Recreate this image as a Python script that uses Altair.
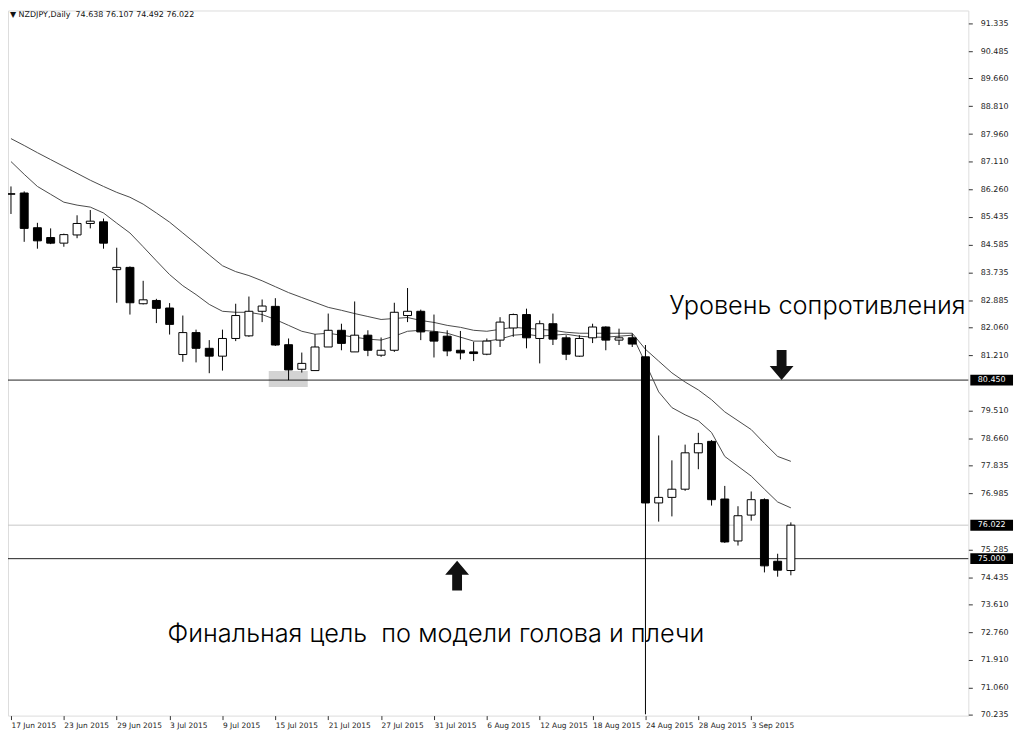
import altair as alt
import pandas as pd

# NZDJPY daily candles, 17 Jun 2015 - 8 Sep 2015
opens = [86.12, 86.16, 85.10, 84.80, 84.63, 84.88, 85.23, 85.28, 83.82, 83.89,
         82.78, 82.88, 82.65, 81.23, 81.90, 81.42, 81.18, 81.72, 81.80, 82.55,
         82.70, 81.53, 80.78, 80.74, 81.46, 81.97, 81.31, 81.82, 81.21, 81.36,
         82.42, 82.55, 81.92, 81.79, 81.36, 81.31, 81.24, 81.67, 82.04, 82.45,
         81.72, 82.17, 81.74, 81.18, 81.74, 82.07, 81.67, 81.74, 81.16, 76.70,
         76.87, 77.12, 78.23, 78.58, 76.82, 75.54, 76.33, 76.80, 74.92, 74.638]
highs = [86.36, 86.21, 85.25, 85.08, 84.92, 85.48, 85.64, 85.38, 84.49, 83.92,
         83.48, 82.93, 82.80, 82.42, 81.99, 81.67, 81.99, 82.78, 83.00, 82.91,
         82.95, 81.72, 81.29, 81.85, 82.48, 82.17, 82.85, 81.97, 81.75, 82.81,
         83.26, 82.60, 82.45, 81.97, 81.95, 81.62, 81.72, 82.37, 82.48, 82.63,
         82.27, 82.48, 81.82, 81.82, 82.17, 82.09, 82.02, 81.87, 81.52, 78.76,
         78.00, 78.48, 78.84, 78.62, 77.22, 76.60, 77.05, 76.84, 75.15, 76.107]
lows = [85.52, 84.67, 84.46, 84.60, 84.52, 84.78, 85.08, 84.46, 82.81, 82.45,
        82.76, 82.19, 81.84, 81.01, 80.99, 80.66, 80.74, 81.64, 81.77, 82.22,
        81.49, 80.45, 80.68, 80.74, 81.46, 81.36, 81.31, 81.18, 81.16, 81.31,
        82.22, 81.67, 81.14, 81.18, 81.08, 81.03, 81.21, 81.46, 81.77, 81.42,
        80.96, 81.52, 81.06, 81.16, 81.58, 81.36, 81.52, 81.46, 70.25, 76.13,
        76.29, 77.07, 77.73, 76.62, 75.48, 75.40, 76.16, 74.58, 74.45, 74.492]
closes = [86.14, 85.08, 84.70, 84.63, 84.89, 85.23, 85.30, 84.63, 83.89, 82.81,
          82.90, 82.64, 82.15, 81.90, 81.42, 81.18, 81.72, 82.42, 82.55, 82.71,
          81.52, 80.76, 80.96, 81.46, 81.97, 81.57, 81.82, 81.36, 81.36, 82.52,
          82.55, 81.92, 81.64, 81.34, 81.28, 81.26, 81.64, 82.22, 82.45, 81.74,
          82.17, 81.70, 81.24, 81.72, 82.07, 81.67, 81.74, 81.55, 76.70, 76.87,
          77.12, 78.23, 78.51, 76.80, 75.51, 76.31, 76.80, 74.78, 74.65, 76.022]

# the two moving averages drawn on the chart
ma_slow = [87.82, 87.61, 87.39, 87.18, 86.97, 86.76, 86.55, 86.36, 86.18, 86.03,
           85.82, 85.55, 85.27, 84.94, 84.61, 84.27, 83.94, 83.76, 83.64, 83.48,
           83.30, 83.12, 82.97, 82.82, 82.67, 82.58, 82.48, 82.39, 82.30, 82.33,
           82.36, 82.27, 82.21, 82.12, 82.06, 81.97, 81.94, 82.00, 82.06, 82.03,
           82.00, 81.97, 81.91, 81.88, 81.88, 81.88, 81.88, 81.88, 81.39, 81.03,
           80.67, 80.39, 80.15, 79.85, 79.48, 79.21, 78.94, 78.52, 78.12, 77.97]
ma_fast = [87.12, 86.73, 86.36, 86.12, 85.88, 85.79, 85.73, 85.55, 85.24, 84.94,
           84.52, 84.09, 83.67, 83.33, 83.06, 82.76, 82.55, 82.52, 82.52, 82.45,
           82.30, 82.12, 81.94, 81.85, 81.88, 81.82, 81.76, 81.70, 81.67, 81.79,
           81.94, 81.97, 81.94, 81.88, 81.76, 81.64, 81.64, 81.70, 81.82, 81.85,
           81.79, 81.82, 81.85, 81.79, 81.76, 81.76, 81.79, 81.82, 80.97, 80.09,
           79.61, 79.39, 79.21, 78.85, 78.12, 77.82, 77.52, 77.12, 76.73, 76.55]

date_labels = ["17 Jun 2015", "23 Jun 2015", "29 Jun 2015", "3 Jul 2015", "9 Jul 2015",
               "15 Jul 2015", "21 Jul 2015", "27 Jul 2015", "31 Jul 2015", "6 Aug 2015",
               "12 Aug 2015", "18 Aug 2015", "24 Aug 2015", "28 Aug 2015", "3 Sep 2015"]
# 80.360 and 76.135 sit under the price tags, so they are left out
price_ticks = [91.335, 90.485, 89.660, 88.810, 87.960, 87.110, 86.260, 85.435, 84.585,
               83.735, 82.885, 82.060, 81.210, 79.510, 78.660, 77.835, 76.985,
               75.285, 74.435, 73.610, 72.760, 71.910, 71.060, 70.235]

levels = [80.45, 75.0]
bid = [76.022]
price_tags = [80.45, 76.022, 75.0]

notes = ["Уровень сопротивления", "Финальная цель\u00a0 по модели голова и плечи"]
note_bar = [49.8, 11.85]
note_price = [82.70, 72.70]

arrow_down = {"i": [58.3], "p": [80.91]}
arrow_up = {"i": [33.75], "p": [74.48]}
highlight = {"i1": [19.5], "i2": [22.45], "p1": [80.24], "p2": [80.73]}

header = "▼ NZDJPY,Daily\u00a0 74.638 76.107 74.492 76.022"

bars = pd.DataFrame({"i": range(len(opens)), "open": opens, "high": highs,
                     "low": lows, "close": closes})
mas = pd.DataFrame({"i": list(range(len(ma_slow))) * 2,
                    "ma": ma_slow + ma_fast,
                    "which": ["slow"] * len(ma_slow) + ["fast"] * len(ma_fast)})

FONT = "DejaVu Sans"
xs = alt.Scale(domain=[0.15, 72.05], nice=False, zero=False)
ys = alt.Scale(domain=[70.21, 91.73], nice=False, zero=False)
labels_js = "[" + ",".join(f"'{d}'" for d in date_labels) + "]"
x_axis = alt.Axis(values=list(range(0, 57, 4)), labelExpr=labels_js + "[round(datum.value / 4)]",
                  labelAlign="left", labelPadding=2, labelOffset=0, tickSize=4,
                  domain=False, grid=False, title=None, labelFont=FONT, labelFontSize=7.5,
                  labelColor="#222", tickColor="#333", labelOverlap=False, labelFlush=False)
y_axis = alt.Axis(orient="right", values=price_ticks, labelExpr="format(datum.value, '.3f')",
                  tickSize=4, labelPadding=8, domain=False, grid=False, title=None,
                  labelFont=FONT, labelFontSize=8, labelColor="#222", tickColor="#333",
                  labelOverlap=False, labelFlush=False)


def X(field):
    return alt.X(field, scale=xs, axis=x_axis)


def Y(field):
    return alt.Y(field, scale=ys, axis=y_axis)


hl = alt.Chart(pd.DataFrame(highlight)).mark_rect(color="#d3d3d3").encode(
    x=X("i1:Q"), x2="i2:Q", y=Y("p1:Q"), y2="p2:Q")

bid_line = alt.Chart(pd.DataFrame({"v": bid})).mark_rule(color="#c8c8c8", strokeWidth=1).encode(
    y=Y("v:Q"))
level_lines = alt.Chart(pd.DataFrame({"v": levels})).mark_rule(color="#222", strokeWidth=1).encode(
    y=Y("v:Q"))

ma_lines = alt.Chart(mas).mark_line(color="#4a4a4a", strokeWidth=1, clip=True).encode(
    x=X("i:Q"), y=Y("ma:Q"), detail="which:N")

wicks = alt.Chart(bars).mark_rule(color="black", strokeWidth=1, clip=True).encode(
    x=X("i:Q"), y=Y("low:Q"), y2="high:Q")
bodies = alt.Chart(bars).mark_bar(size=8, stroke="black", strokeWidth=1, clip=True).encode(
    x=X("i:Q"), y=Y("open:Q"), y2="close:Q",
    fill=alt.condition("datum.close >= datum.open", alt.value("white"), alt.value("black")))

down_path = "M-0.33,-1L0.33,-1L0.33,0.07L0.8,0.07L0,1L-0.8,0.07L-0.33,0.07Z"
up_path = "M-0.33,1L0.33,1L0.33,-0.07L0.8,-0.07L0,-1L-0.8,-0.07L-0.33,-0.07Z"
arr_d = alt.Chart(pd.DataFrame(arrow_down)).mark_point(
    shape=down_path, size=900, filled=True, color="#111", opacity=1, strokeWidth=0).encode(
    x=X("i:Q"), y=Y("p:Q"))
arr_u = alt.Chart(pd.DataFrame(arrow_up)).mark_point(
    shape=up_path, size=900, filled=True, color="#111", opacity=1, strokeWidth=0).encode(
    x=X("i:Q"), y=Y("p:Q"))

note_text = alt.Chart(pd.DataFrame({"t": notes, "i": note_bar, "p": note_price})).mark_text(
    font="Inter", fontSize=25.5, fontWeight=300, align="left", baseline="middle", color="black").encode(
    x=X("i:Q"), y=Y("p:Q"), text="t:N")

tags = pd.DataFrame({"v": price_tags})
tag_box = alt.Chart(tags).mark_tick(color="black", size=43, thickness=11, orient="horizontal",
                                    opacity=1).encode(y=Y("v:Q"), x=alt.value(990.5))
tag_text = alt.Chart(tags).mark_text(color="white", font=FONT, fontSize=8, align="center",
                                     baseline="middle").encode(
    y=Y("v:Q"), x=alt.value(990.5), text=alt.Text("v:Q", format=".3f"))

head = alt.Chart(pd.DataFrame({"t": [header]})).mark_text(
    font=FONT, fontSize=8, align="left", baseline="middle", color="#111").encode(
    x=alt.value(2), y=alt.value(5), text="t:N")

chart = alt.layer(
    hl, bid_line, level_lines, ma_lines, wicks, bodies, arr_d, arr_u,
    note_text, tag_box, tag_text, head
).properties(
    width=967, height=710,
    autosize=alt.AutoSizeParams(type="none"),
    padding={"left": 0, "top": 0, "right": 48, "bottom": 15},
).configure_view(stroke="#333", strokeWidth=1).configure(background="white")

chart.save("out.html", embed_options={"renderer": "svg", "actions": False})
